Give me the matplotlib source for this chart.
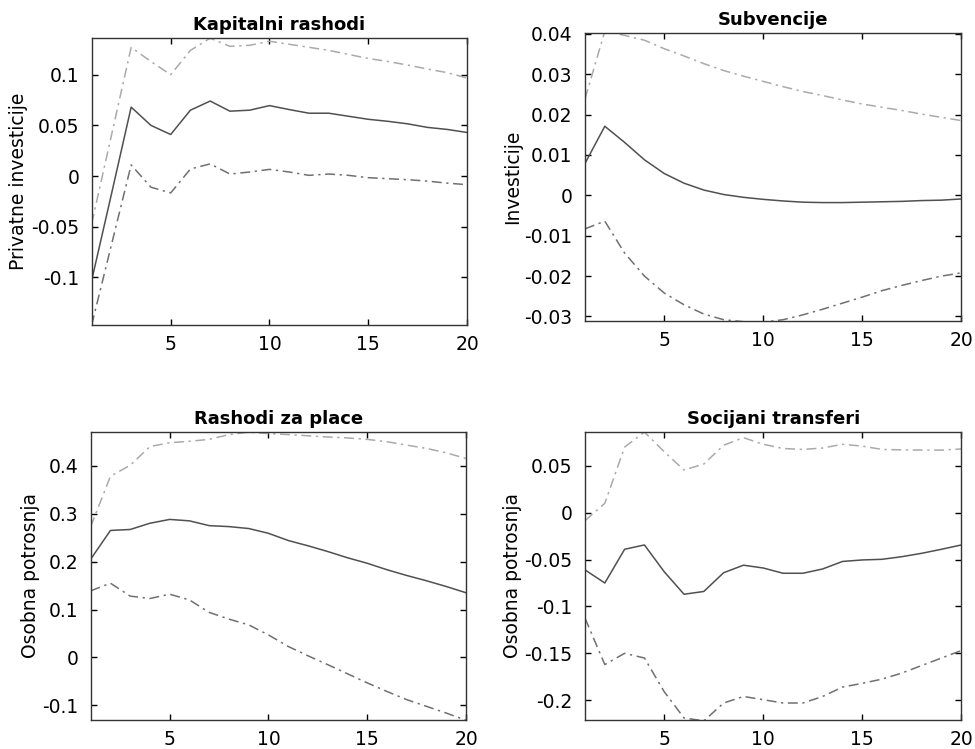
import numpy as np
import matplotlib
matplotlib.use("Agg")
import matplotlib.pyplot as plt

plt.rcParams['font.family'] = ['DejaVu Sans']

periods = np.arange(1, 21)

# Kapitalni rashodi -> Privatne investicije
kap_mid = [-0.103, -0.018, 0.068, 0.050, 0.041, 0.065, 0.074, 0.064, 0.065, 0.0695,
           0.0656, 0.062, 0.062, 0.059, 0.056, 0.054, 0.0515, 0.048, 0.046, 0.043]
kap_up = [-0.047, 0.040, 0.127, 0.113, 0.100, 0.124, 0.136, 0.128, 0.129, 0.133,
          0.130, 0.127, 0.124, 0.120, 0.116, 0.113, 0.1095, 0.1056, 0.102, 0.0967]
kap_lo = [-0.147, -0.068, 0.011, -0.011, -0.0167, 0.007, 0.012, 0.002, 0.004, 0.0066,
          0.004, 0.0007, 0.002, 0.0007, -0.0016, -0.0026, -0.0036, -0.005, -0.007, -0.0085]

# Subvencije -> Investicije
sub_mid = [0.0079, 0.0171, 0.0131, 0.0088, 0.0054, 0.0030, 0.0013, 0.0002, -0.0005, -0.0010,
           -0.0014, -0.0017, -0.0018, -0.0018, -0.0017, -0.0016, -0.0015, -0.0013, -0.0012, -0.0009]
sub_up = [0.0239, 0.0406, 0.0396, 0.0384, 0.0363, 0.0345, 0.0326, 0.0309, 0.0295, 0.0282,
          0.0269, 0.0257, 0.0247, 0.0236, 0.0226, 0.0218, 0.0210, 0.0201, 0.0193, 0.0185]
sub_lo = [-0.0083, -0.0064, -0.0143, -0.0200, -0.0242, -0.0271, -0.0294, -0.0308, -0.0313, -0.0314,
          -0.0308, -0.0296, -0.0282, -0.0267, -0.0252, -0.0236, -0.0223, -0.0211, -0.0200, -0.0192]

# Rashodi za place -> Osobna potrosnja
pl_mid = [0.205, 0.265, 0.267, 0.280, 0.288, 0.285, 0.275, 0.273, 0.269, 0.259,
          0.244, 0.233, 0.221, 0.208, 0.1965, 0.183, 0.171, 0.160, 0.148, 0.135]
pl_up = [0.273, 0.378, 0.401, 0.440, 0.448, 0.451, 0.455, 0.465, 0.470, 0.467,
         0.465, 0.4625, 0.460, 0.458, 0.455, 0.450, 0.443, 0.436, 0.427, 0.415]
pl_lo = [0.139, 0.155, 0.128, 0.123, 0.132, 0.120, 0.094, 0.080, 0.068, 0.047,
         0.023, 0.0035, -0.015, -0.034, -0.053, -0.071, -0.088, -0.102, -0.116, -0.131]

# Socijani transferi -> Osobna potrosnja
soc_mid = [-0.061, -0.075, -0.039, -0.0344, -0.063, -0.087, -0.084, -0.064, -0.056, -0.059,
           -0.0646, -0.0646, -0.060, -0.052, -0.0504, -0.0497, -0.0469, -0.0433, -0.039, -0.0344]
soc_up = [-0.0085, 0.010, 0.070, 0.086, 0.065, 0.0455, 0.052, 0.072, 0.080, 0.073,
          0.0685, 0.0675, 0.069, 0.073, 0.071, 0.0675, 0.067, 0.0668, 0.0668, 0.068]
soc_lo = [-0.1125, -0.162, -0.150, -0.155, -0.191, -0.219, -0.222, -0.203, -0.196, -0.1995,
          -0.203, -0.203, -0.196, -0.186, -0.182, -0.1775, -0.171, -0.163, -0.155, -0.147]

# title, ylabel, series, ylim, yticks, axes rect, ylabel x
panels = [
    ("Kapitalni rashodi", "Privatne investicije", kap_mid, kap_up, kap_lo,
     (-0.147, 0.136), [-0.1, -0.05, 0, 0.05, 0.1], [0.094, 0.566, 0.385, 0.383], -0.170),
    ("Subvencije", "Investicije", sub_mid, sub_up, sub_lo,
     (-0.0312, 0.0402), [-0.03, -0.02, -0.01, 0, 0.01, 0.02, 0.03, 0.04],
     [0.600, 0.571, 0.386, 0.385], -0.167),
    ("Rashodi za place", "Osobna potrosnja", pl_mid, pl_up, pl_lo,
     (-0.130, 0.470), [-0.1, 0, 0.1, 0.2, 0.3, 0.4], [0.093, 0.039, 0.385, 0.384], -0.135),
    ("Socijani transferi", "Osobna potrosnja", soc_mid, soc_up, soc_lo,
     (-0.2209, 0.0859), [-0.2, -0.15, -0.1, -0.05, 0, 0.05], [0.600, 0.039, 0.386, 0.384], -0.167),
]

dashdot = (0, (6.5, 3, 1.5, 3))

fig = plt.figure(figsize=(9.75, 7.49), dpi=100)

for title, ylabel, mid, up, lo, ylim, yticks, pos, labx in panels:
    ax = fig.add_axes(pos)
    ax.plot(periods, up, color='#aaaaaa', lw=1.1, ls=dashdot)
    ax.plot(periods, lo, color='#707070', lw=1.1, ls=dashdot)
    ax.plot(periods, mid, color='#505050', lw=1.1)
    ax.set_xlim(1, 20)
    ax.set_ylim(*ylim)
    ax.set_xticks([5, 10, 15, 20])
    ax.set_yticks(yticks)
    ax.set_yticklabels(['%g' % t for t in yticks])
    ax.tick_params(direction='in', top=True, right=True, labelsize=13.5, length=4, width=1)
    ax.tick_params(axis='y', pad=9)
    ax.tick_params(axis='x', pad=7)
    for s in ax.spines.values():
        s.set_linewidth(1)
        s.set_color('#333333')
    ax.set_title(title, fontsize=13, fontweight='bold', pad=6)
    ax.set_ylabel(ylabel, fontsize=13.5)
    ax.yaxis.set_label_coords(labx, 0.5)

fig.savefig("out.png", dpi=100)
